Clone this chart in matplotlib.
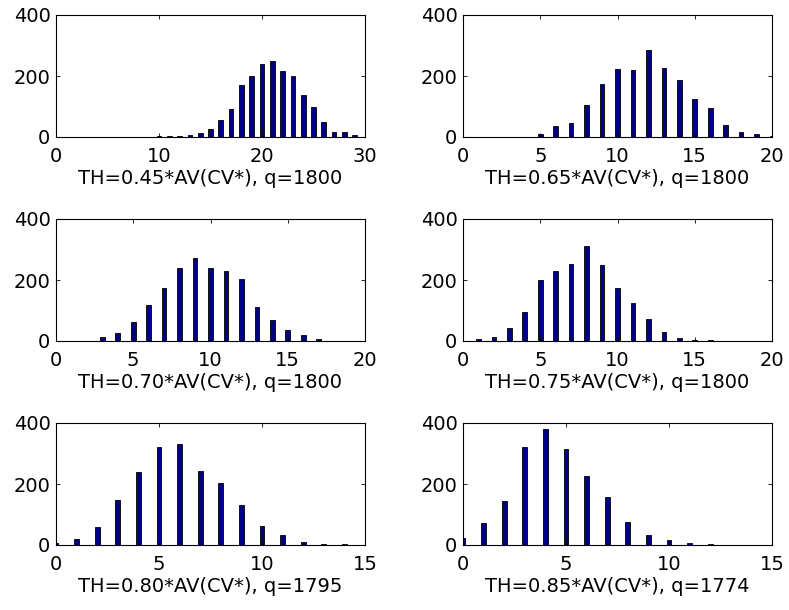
import matplotlib
matplotlib.use("Agg")
import matplotlib.pyplot as plt
import numpy as np

plt.rcParams['font.family'] = ['DejaVu Sans']

# Histogram counts per integer bin for each threshold setting
x_045 = list(range(9, 30))
c_045 = [1, 2, 2, 3, 5, 13, 25, 57, 93, 169, 200, 240, 250, 215, 200, 137, 100, 49, 17, 17, 5]

x_065 = list(range(4, 21))
c_065 = [1, 9, 35, 46, 106, 173, 224, 220, 284, 225, 188, 123, 95, 39, 17, 9, 3]

x_070 = list(range(2, 20))
c_070 = [1, 12, 27, 63, 119, 175, 238, 272, 238, 231, 203, 110, 70, 37, 20, 8, 1, 1]

x_075 = list(range(1, 17))
c_075 = [5, 14, 43, 95, 199, 231, 254, 311, 248, 174, 124, 71, 29, 9, 4, 2]

x_080 = list(range(0, 15))
c_080 = [5, 21, 58, 146, 238, 320, 330, 242, 202, 132, 61, 32, 9, 4, 2]

x_085 = list(range(0, 13))
c_085 = [24, 73, 145, 320, 379, 316, 225, 157, 76, 34, 17, 5, 2]

titles = [
    "TH=0.45*AV(CV*), q=1800",
    "TH=0.65*AV(CV*), q=1800",
    "TH=0.70*AV(CV*), q=1800",
    "TH=0.75*AV(CV*), q=1800",
    "TH=0.80*AV(CV*), q=1795",
    "TH=0.85*AV(CV*), q=1774",
]
xmaxes = [30, 20, 20, 20, 15, 15]
xticks = [[0, 10, 20, 30], [0, 5, 10, 15, 20], [0, 5, 10, 15, 20],
          [0, 5, 10, 15, 20], [0, 5, 10, 15], [0, 5, 10, 15]]
yticks = [0, 200, 400]

series = [(x_045, c_045), (x_065, c_065), (x_070, c_070),
          (x_075, c_075), (x_080, c_080), (x_085, c_085)]

W, H = 789, 610
fig = plt.figure(figsize=(W / 100, H / 100), dpi=100)

lefts = [56, 463]
tops = [15, 219, 423]
aw, ah = 309, 122

for i, ((xs, cs), title, xmax, xt) in enumerate(zip(series, titles, xmaxes, xticks)):
    r, c = divmod(i, 2)
    l = lefts[c]
    t = tops[r]
    ax = fig.add_axes([l / W, 1 - (t + ah) / H, aw / W, ah / H])
    ax.bar(xs, cs, width=xmax / 66.0, color='#000088', edgecolor='black',
           linewidth=0.6, align='center')
    ax.set_xlim(0, xmax)
    ax.set_ylim(0, 400)
    ax.set_xticks(xt)
    ax.set_yticks(yticks)
    ax.tick_params(direction='in', length=3, width=0.6, top=True, right=True,
                   labelsize=14)
    ax.tick_params(axis='x', pad=7)
    ax.tick_params(axis='y', pad=4)
    for s in ax.spines.values():
        s.set_linewidth(0.8)
    ax.set_xlabel(title, fontsize=14, labelpad=2)

fig.savefig("out.png", dpi=100)
